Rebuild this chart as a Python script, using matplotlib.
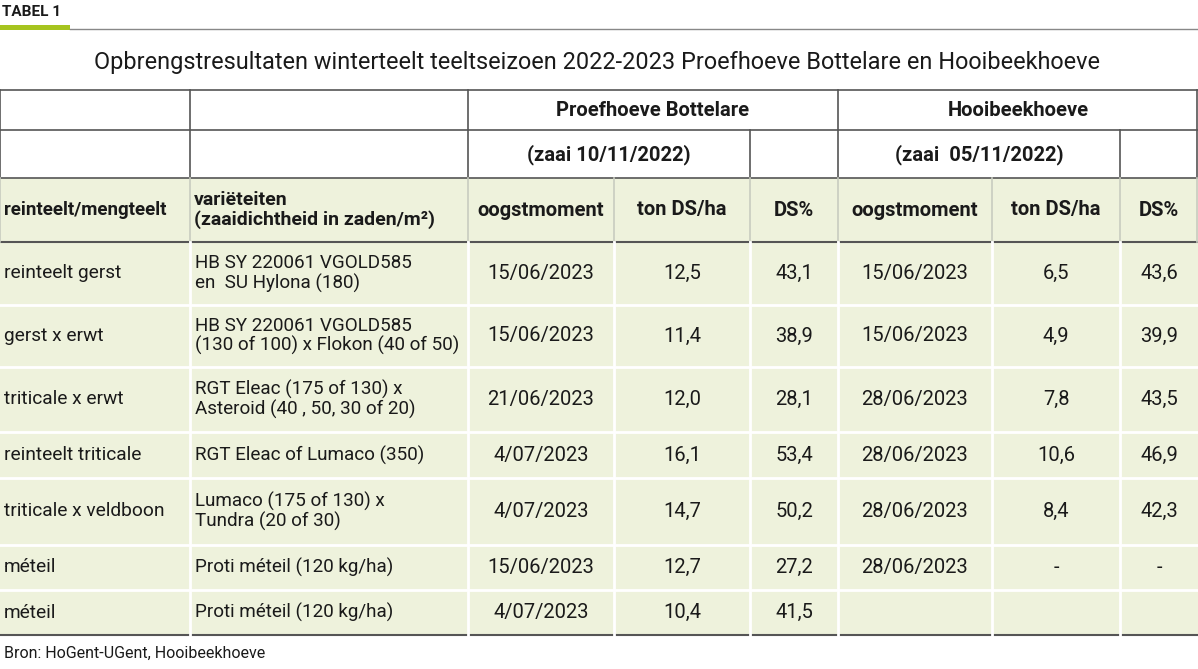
import matplotlib
matplotlib.use("Agg")
import matplotlib.pyplot as plt
from matplotlib.patches import Rectangle

FONT = ["Roboto", "DejaVu Sans"]
plt.rcParams["font.family"] = FONT

title = "Opbrengstresultaten winterteelt teeltseizoen 2022-2023 Proefhoeve Bottelare en Hooibeekhoeve"
loc1 = "Proefhoeve Bottelare"
loc2 = "Hooibeekhoeve"
zaai1 = "(zaai 10/11/2022)"
zaai2 = "(zaai  05/11/2022)"
col_headers = ["reinteelt/mengteelt", "variëteiten\n(zaaidichtheid in zaden/m²)",
               "oogstmoment", "ton DS/ha", "DS%", "oogstmoment", "ton DS/ha", "DS%"]
teelt = ["reinteelt gerst", "gerst x erwt", "triticale x erwt", "reinteelt triticale",
         "triticale x veldboon", "méteil", "méteil"]
varieteiten = ["HB SY 220061 VGOLD585\nen  SU Hylona (180)",
               "HB SY 220061 VGOLD585\n(130 of 100) x Flokon (40 of 50)",
               "RGT Eleac (175 of 130) x\nAsteroid (40 , 50, 30 of 20)",
               "RGT Eleac of Lumaco (350)",
               "Lumaco (175 of 130) x\nTundra (20 of 30)",
               "Proti méteil (120 kg/ha)",
               "Proti méteil (120 kg/ha)"]
b_oogst = ["15/06/2023", "15/06/2023", "21/06/2023", "4/07/2023", "4/07/2023", "15/06/2023", "4/07/2023"]
b_ton = ["12,5", "11,4", "12,0", "16,1", "14,7", "12,7", "10,4"]
b_ds = ["43,1", "38,9", "28,1", "53,4", "50,2", "27,2", "41,5"]
h_oogst = ["15/06/2023", "15/06/2023", "28/06/2023", "28/06/2023", "28/06/2023", "28/06/2023", ""]
h_ton = ["6,5", "4,9", "7,8", "10,6", "8,4", "-", ""]
h_ds = ["43,6", "39,9", "43,5", "46,9", "42,3", "-", ""]
source = "Bron: HoGent-UGent, Hooibeekhoeve"

W, H = 1198, 669
fig = plt.figure(figsize=(W / 100, H / 100), dpi=100)
ax = fig.add_axes([0, 0, 1, 1])
ax.set_xlim(0, W)
ax.set_ylim(H, 0)
ax.axis("off")

cols = [0, 190, 468, 614, 750, 838, 992, 1120, 1198]
rows = [242, 305, 367, 432, 478, 545, 590, 635]
GREEN = "#eef2dc"
DARK = "#555555"
LIGHT = "#ffffff"
TXT = "#1a1a1a"
FS = 13.8

ax.text(2, 12, "TABEL 1", fontsize=11, fontweight="bold", va="center", ha="left", color=TXT)
ax.add_patch(Rectangle((0, 25), 70, 5, color="#a6c41f", lw=0))
ax.plot([70, W], [29, 29], color="#888888", lw=1)
ax.text(W / 2 - 2, 62, title, fontsize=16.9, ha="center", va="center", color=TXT)

ax.add_patch(Rectangle((0, 178), W, rows[0] - 178, color=GREEN, lw=0))
ax.add_patch(Rectangle((0, rows[0]), W, rows[-1] - rows[0], color=GREEN, lw=0))

for y in [90, 130, 178]:
    ax.plot([0, W], [y, y], color=DARK, lw=1.2)
ax.plot([0, W], [rows[0], rows[0]], color=DARK, lw=1.5)
ax.plot([0, W], [rows[-1], rows[-1]], color=DARK, lw=1.5)
for x in [0, 190, 468, 838, W - 1]:
    ax.plot([x, x], [90, 178], color=DARK, lw=1.2)
for x in [750, 1120]:
    ax.plot([x, x], [130, 178], color=DARK, lw=1.2)
for x in cols[:-1] + [W - 1]:
    ax.plot([x, x], [178, rows[0]], color="#c8ccc0", lw=1.2)
for y in rows[1:-1]:
    ax.plot([0, W], [y, y], color=LIGHT, lw=2)
for x in cols[1:-1]:
    ax.plot([x, x], [rows[0], rows[-1]], color=LIGHT, lw=2)

ax.text((468 + 838) / 2, 110, loc1, fontsize=14.5, fontweight="bold", ha="center", va="center", color=TXT)
ax.text((838 + 1198) / 2, 110, loc2, fontsize=14.5, fontweight="bold", ha="center", va="center", color=TXT)
ax.text((468 + 750) / 2, 155, zaai1, fontsize=14.5, fontweight="bold", ha="center", va="center", color=TXT)
ax.text((838 + 1120) / 2, 155, zaai2, fontsize=14.5, fontweight="bold", ha="center", va="center", color=TXT)

hy = (178 + rows[0]) / 2
for i, h in enumerate(col_headers):
    if i < 2:
        ax.text(cols[i] + 4, hy, h, fontsize=13.5 if i == 0 else 14, fontweight="bold", ha="left",
                va="center", color=TXT, linespacing=1.05)
    else:
        ax.text((cols[i] + cols[i + 1]) / 2, hy, h, fontsize=14.5, fontweight="bold",
                ha="center", va="center", color=TXT)

data_cols = [b_oogst, b_ton, b_ds, h_oogst, h_ton, h_ds]
for r in range(len(teelt)):
    cy = (rows[r] + rows[r + 1]) / 2
    ax.text(cols[0] + 4, cy, teelt[r], fontsize=FS, ha="left", va="center", color=TXT)
    ax.text(cols[1] + 5, cy, varieteiten[r], fontsize=13.6, ha="left", va="center",
            color=TXT, linespacing=1.1)
    for j, series in enumerate(data_cols):
        c = j + 2
        ax.text((cols[c] + cols[c + 1]) / 2, cy, series[r], fontsize=14.5,
                ha="center", va="center", color=TXT)

ax.text(4, 653, source, fontsize=11.5, ha="left", va="center", color=TXT)

fig.savefig("out.png", dpi=100)
